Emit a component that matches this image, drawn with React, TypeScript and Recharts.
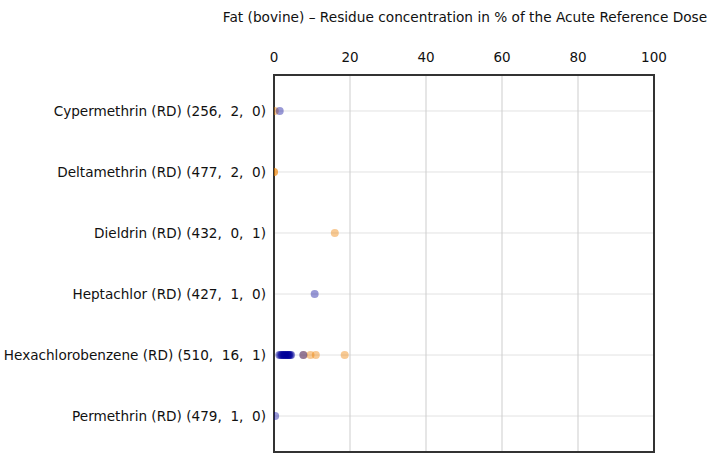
import React from 'react';
import { ScatterChart, Scatter, XAxis, YAxis, CartesianGrid, ReferenceArea } from 'recharts';

const title = 'Fat (bovine) \u2013 Residue concentration in % of the Acute Reference Dose';
const categories = [
  'Cypermethrin (RD) (256,  2,  0)',
  'Deltamethrin (RD) (477,  2,  0)',
  'Dieldrin (RD) (432,  0,  1)',
  'Heptachlor (RD) (427,  1,  0)',
  'Hexachlorobenzene (RD) (510,  16,  1)',
  'Permethrin (RD) (479,  1,  0)',
];
const xTicks = [0, 20, 40, 60, 80, 100];
const blueValues: number[][] = [
  [1.5],
  [],
  [],
  [10.7],
  [1.4, 1.7, 2.0, 2.2, 2.5, 2.6, 2.9, 3.0, 3.3, 3.5, 3.7, 3.9, 4.0, 4.3, 4.5, 7.7],
  [0.3],
];
const orangeValues: number[][] = [
  [0.2],
  [0, 0],
  [16.0],
  [],
  [7.8, 9.6, 11.0, 18.6],
  [],
];

const toPoints = (vals: number[][]) =>
  vals.flatMap((row, i) => row.map((v) => ({ x: v, y: i })));
const blueData = toPoints(blueValues);
const orangeData = toPoints(orangeValues);

const FONT = '"DejaVu Sans", Verdana, sans-serif';

const Dot = (color: string, op: number) => (props: any) => (
  <circle cx={props.cx} cy={props.cy} r={4} fill={color} fillOpacity={op} />
);

const XTick = (props: any) => (
  <text x={props.x} y={62} textAnchor="middle" fontFamily={FONT} fontSize={13.5} fill="#111">
    {props.payload.value}
  </text>
);

const YTick = (props: any) => (
  <text
    x={266}
    y={props.y}
    dy={5}
    textAnchor="end"
    fontFamily={FONT}
    fontSize={13.6}
    fill="#111"
    style={{ whiteSpace: 'pre' }}
  >
    {categories[props.payload.value]}
  </text>
);

export default function App() {
  return (
    <div style={{ position: 'relative', width: 709, height: 456, background: '#fff' }}>
      <style>{`body{margin:0}`}</style>
      <div
        style={{
          position: 'absolute',
          left: 465,
          top: 9,
          transform: 'translateX(-50%)',
          whiteSpace: 'nowrap',
          fontFamily: FONT,
          fontSize: 13.7,
          color: '#111',
        }}
      >
        {title}
      </div>
      <ScatterChart width={709} height={456} margin={{ top: 40, right: 55, bottom: 4, left: 0 }}>
        <CartesianGrid stroke="#e2e2e2" strokeWidth={1} vertical={false} />
        <CartesianGrid stroke="#cdcdcd" strokeWidth={1} horizontal={false} />
        <XAxis
          type="number"
          dataKey="x"
          orientation="top"
          domain={[0, 100]}
          ticks={xTicks}
          allowDataOverflow
          axisLine={false}
          tickLine={false}
          height={35}
          tick={<XTick />}
        />
        <YAxis
          type="number"
          dataKey="y"
          domain={[-0.59, 5.59]}
          reversed
          ticks={[0, 1, 2, 3, 4, 5]}
          allowDataOverflow
          axisLine={false}
          tickLine={false}
          width={274}
          tick={<YTick />}
        />
        <ReferenceArea x1={0} x2={100} y1={-0.59} y2={5.59} fill="none" stroke="#333" strokeWidth={2} ifOverflow="visible" />
        <Scatter data={orangeData} isAnimationActive={false} shape={Dot('#ee8100', 0.42)} />
        <Scatter data={blueData} isAnimationActive={false} shape={Dot('#000099', 0.4)} />
      </ScatterChart>
    </div>
  );
}
